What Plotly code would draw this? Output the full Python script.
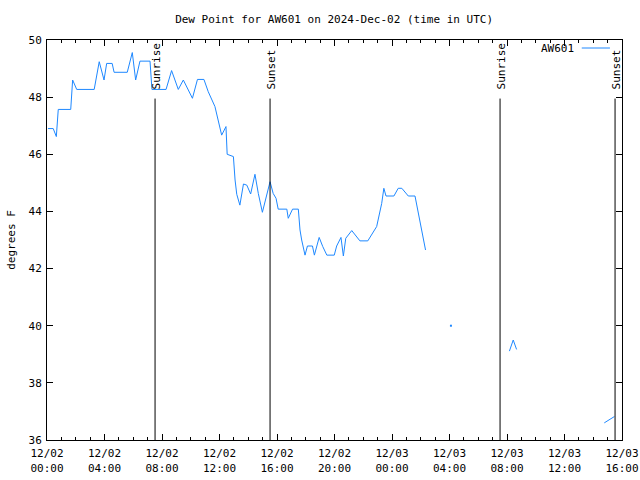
import plotly.graph_objects as go

DAY1 = "2024-12-02 "
DAY2 = "2024-12-03 "

times = [
    DAY1 + "00:04", DAY1 + "00:26", DAY1 + "00:39", DAY1 + "00:47", DAY1 + "01:39", DAY1 + "01:47",
    DAY1 + "02:04", DAY1 + "03:17", DAY1 + "03:38", DAY1 + "03:58", DAY1 + "04:09", DAY1 + "04:32",
    DAY1 + "04:40", DAY1 + "05:35", DAY1 + "05:56", DAY1 + "06:10", DAY1 + "06:28", DAY1 + "07:10",
    DAY1 + "07:18", DAY1 + "08:17", DAY1 + "08:40", DAY1 + "09:08", DAY1 + "09:29", DAY1 + "10:07",
    DAY1 + "10:28", DAY1 + "10:55", DAY1 + "11:13", DAY1 + "11:41", DAY1 + "12:09", DAY1 + "12:27",
    DAY1 + "12:32", DAY1 + "12:58", DAY1 + "13:05", DAY1 + "13:12", DAY1 + "13:25", DAY1 + "13:40",
    DAY1 + "13:54", DAY1 + "14:10", DAY1 + "14:28", DAY1 + "14:42", DAY1 + "14:59", DAY1 + "15:31",
    DAY1 + "15:44", DAY1 + "15:56", DAY1 + "16:05", DAY1 + "16:41", DAY1 + "16:47", DAY1 + "17:05",
    DAY1 + "17:29", DAY1 + "17:36", DAY1 + "17:43", DAY1 + "17:57", DAY1 + "18:07", DAY1 + "18:28",
    DAY1 + "18:36", DAY1 + "18:56", DAY1 + "19:11", DAY1 + "19:28", DAY1 + "19:59", DAY1 + "20:09",
    DAY1 + "20:27", DAY1 + "20:37", DAY1 + "20:47", DAY1 + "21:12", DAY1 + "21:46", DAY1 + "22:19",
    DAY1 + "22:56", DAY1 + "23:17", DAY1 + "23:26", DAY1 + "23:35", DAY2 + "00:08", DAY2 + "00:26",
    DAY2 + "00:41", DAY2 + "01:08", DAY2 + "01:36", DAY2 + "01:50", DAY2 + "02:04", DAY2 + "02:20",
    DAY2 + "03:10",
    DAY2 + "04:06",
    DAY2 + "06:00",
    DAY2 + "08:10", DAY2 + "08:26", DAY2 + "08:40",
    DAY2 + "11:00",
    DAY2 + "14:46", DAY2 + "15:28",
]

dew_point = [
    46.90, 46.90, 46.62, 47.57, 47.57, 48.60,
    48.27, 48.27, 49.24, 48.60, 49.18, 49.18,
    48.87, 48.87, 49.56, 48.60, 49.26, 49.26,
    48.27, 48.27, 48.93, 48.27, 48.60, 47.96,
    48.62, 48.62, 48.19, 47.67, 46.67, 46.97,
    46.00, 45.92, 45.10, 44.60, 44.22, 44.96,
    44.92, 44.61, 45.30, 44.63, 43.97, 45.04,
    44.63, 44.46, 44.08, 44.08, 43.76, 44.08,
    44.08, 43.35, 43.00, 42.47, 42.79, 42.79,
    42.47, 43.09, 42.77, 42.47, 42.47, 42.79,
    43.09, 42.44, 43.06, 43.33, 42.97, 42.97,
    43.47, 44.28, 44.81, 44.54, 44.54, 44.81,
    44.81, 44.54, 44.54, 43.93, 43.23, 42.65,
    None,
    40.00,
    None,
    39.11, 39.50, 39.17,
    None,
    36.60, 36.82,
]

isolated_times = [DAY2 + "04:06"]
isolated_values = [40.00]

sun_times = [DAY1 + "07:31", DAY1 + "15:31", DAY2 + "07:31", DAY2 + "15:31"]
sun_labels = ["Sunrise", "Sunset", "Sunrise", "Sunset"]

x_range = [DAY1 + "00:00", DAY2 + "16:00"]
y_range = [36, 50]

LINE_COLOR = "#1e88ff"
FONT = "DejaVu Sans Mono"

fig = go.Figure()
fig.add_trace(go.Scatter(x=times, y=dew_point, mode="lines", name="AW601",
                         line=dict(color=LINE_COLOR, width=1), connectgaps=False,
                         showlegend=False))
fig.add_trace(go.Scatter(x=isolated_times, y=isolated_values, mode="markers",
                         marker=dict(color=LINE_COLOR, size=2, symbol="square"),
                         showlegend=False))

for t, lab in zip(sun_times, sun_labels):
    fig.add_shape(type="line", x0=t, x1=t, y0=36, y1=47.95, xref="x", yref="y",
                  line=dict(color="black", width=1))
    fig.add_annotation(x=t, y=48.2, xref="x", yref="y", text=lab, textangle=-90,
                       showarrow=False, xanchor="center", yanchor="bottom", xshift=1,
                       font=dict(family=FONT, size=11, color="black"))

# legend (gnuplot style: text then line sample)
fig.add_annotation(x=0.9195, y=0.98, xref="paper", yref="paper", text="AW601",
                   showarrow=False, xanchor="right", yanchor="middle",
                   font=dict(family=FONT, size=11, color="black"))
fig.add_shape(type="line", x0=0.930, x1=0.979, y0=0.98, y1=0.98, xref="paper", yref="paper",
              line=dict(color=LINE_COLOR, width=1))

fig.update_layout(
    width=640, height=480,
    margin=dict(l=47, r=18, t=40, b=40),
    paper_bgcolor="white", plot_bgcolor="white",
    font=dict(family=FONT, size=11, color="black"),
    title=dict(text="Dew Point for AW601 on 2024-Dec-02 (time in UTC)",
               x=0.522, xanchor="center", y=0.96, yanchor="middle",
               font=dict(family=FONT, size=11, color="black")),
    showlegend=False,
)
fig.update_xaxes(
    type="date", range=x_range, tick0=DAY1 + "00:00", dtick=4 * 3600 * 1000,
    tickformat="%m/%d<br>%H:%M", ticks="inside", ticklen=6, tickcolor="black",
    showline=True, linecolor="black", linewidth=1, mirror="allticks", showgrid=False,
    zeroline=False, automargin=False, ticklabelstandoff=3,
    minor=dict(dtick=3600 * 1000, ticks="inside", ticklen=3, tickcolor="black", showgrid=False),
)
fig.update_yaxes(
    range=y_range, dtick=2, ticks="inside", ticklen=6, tickcolor="black",
    showline=True, linecolor="black", linewidth=1, mirror="allticks", showgrid=False,
    zeroline=False, automargin=False, ticklabelstandoff=2,
    title=dict(text="degrees F", standoff=10, font=dict(family=FONT, size=11, color="black")),
)

fig.write_html("out.html")
